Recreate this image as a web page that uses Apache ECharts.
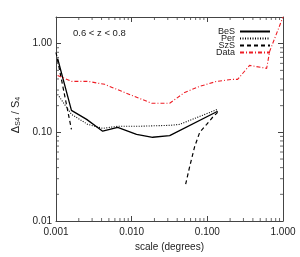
<!DOCTYPE html>
<html><head><meta charset="utf-8">
<script src="https://cdn.jsdelivr.net/npm/echarts@6/dist/echarts.min.js"></script>
<style>html,body{margin:0;padding:0;background:#fff}#c{width:300px;height:257px}</style>
</head><body><div id="c"></div>
<script>
// scale (degrees) and Delta/S4 values
var besX = [0.00105, 0.0016, 0.00254, 0.00414, 0.00653, 0.0116, 0.0189, 0.0318, 0.137];
var besY = [0.68, 0.177, 0.140, 0.103, 0.114, 0.095, 0.088, 0.092, 0.173];
var perX = [0.00105, 0.0016, 0.00262, 0.00414, 0.00653, 0.012, 0.0318, 0.0431, 0.137];
var perY = [0.268, 0.160, 0.123, 0.111, 0.117, 0.117, 0.120, 0.123, 0.182];
var szsX = [0.001, 0.0016, null, 0.0517, 0.0584, 0.068, 0.0793, 0.098, 0.1175, 0.137];
var szsY = [0.80, 0.108, null, 0.026, 0.041, 0.069, 0.100, 0.123, 0.148, 0.168];
var datX = [0.00105, 0.00161, 0.00262, 0.0044, 0.00738, 0.01356, 0.01837, 0.0318, 0.0502, 0.0793, 0.1327, 0.216, 0.251, 0.362, 0.608, 0.666, 1.0];
var datY = [0.439, 0.376, 0.376, 0.348, 0.290, 0.236, 0.213, 0.213, 0.282, 0.330, 0.376, 0.396, 0.396, 0.569, 0.527, 0.819, 2.0];
var xMinorTicks = [0.002,0.003,0.004,0.005,0.006,0.007,0.008,0.009,0.02,0.03,0.04,0.05,0.06,0.07,0.08,0.09,0.2,0.3,0.4,0.5,0.6,0.7,0.8,0.9];
var yMinorTicks = [0.02,0.03,0.04,0.05,0.06,0.07,0.08,0.09,0.2,0.3,0.4,0.5,0.6,0.7,0.8,0.9];
var seriesNames = ['BeS', 'Per', 'SzS', 'Data'];
var panelLabel = '0.6 < z < 0.8';
var X_MIN = 0.001, X_MAX = 1, Y_MIN = 0.01, Y_MAX = 2;

function pairs(xs, ys){ return xs.map(function(x,i){ return x===null ? '-' : [x, ys[i]]; }); }

var AX = '#444';
var FONT = 'Liberation Sans';
function xax(pos, labels){
  return {
    type:'log', logBase:10, min:X_MIN, max:X_MAX, position:pos,
    axisLine:{show:true, onZero:false, lineStyle:{color:AX, width:1}},
    axisTick:{show:true, inside:true, length:5, lineStyle:{color:AX}},
    axisLabel:{show:labels, color:'#222', fontSize:10, fontFamily:FONT, margin:6, formatter:function(v){return v.toFixed(3);}},
    splitLine:{show:false},
    name: labels ? 'scale (degrees)' : '',
    nameLocation:'middle', nameGap:19,
    nameTextStyle:{color:'#222', fontSize:10, fontFamily:FONT}
  };
}
function yax(pos, labels){
  return {
    type:'log', logBase:10, min:Y_MIN, max:Y_MAX, position:pos,
    axisLine:{show:true, onZero:false, lineStyle:{color:AX, width:1}},
    axisTick:{show:true, inside:true, length:5, lineStyle:{color:AX}},
    axisLabel:{show:labels, color:'#222', fontSize:10, fontFamily:FONT, margin:4, formatter:function(v){return v>1.5?'':v.toFixed(2);}},
    splitLine:{show:false},
    name: labels ? '{n|Δ}{s|S4}{n| / S}{s|4}' : '',
    nameLocation:'middle', nameGap:18, nameRotate:90,
    nameTextStyle:{color:'#222', fontFamily:FONT, padding:[0,0,0,8],
      rich:{n:{fontSize:11, fontFamily:FONT, color:'#222'}, s:{fontSize:7, fontFamily:FONT, color:'#222', padding:[5,0,0,0]}}}
  };
}
// minor ticks drawn as tiny marks placed through the axes' own log scales
function tickSeries(data, size, offset){
  return {type:'scatter', data:data, symbol:'rect', symbolSize:size, symbolOffset:offset,
    itemStyle:{color:AX}, silent:true, clip:false, z:5, animation:false};
}

var chart = echarts.init(document.getElementById('c'), null, {renderer:'canvas'});
chart.setOption({
  animation:false,
  backgroundColor:'#fff',
  title:{text:panelLabel, left:68, top:23, textStyle:{fontSize:9.5, fontWeight:'normal', color:'#222', fontFamily:FONT}},
  grid:{left:56, top:17, width:227, height:204},
  legend:{
    orient:'vertical', right:24, top:22, align:'right', itemWidth:30, itemHeight:6, itemGap:-2,
    itemStyle:{opacity:0},
    textStyle:{fontSize:9, fontFamily:FONT, color:'#222', lineHeight:7, padding:[0,0,0,0]},
    data:seriesNames
  },
  xAxis:[xax('bottom',true), xax('top',false)],
  yAxis:[yax('left',true), yax('right',false)],
  series:[
    {name:seriesNames[0], type:'line', data:pairs(besX,besY), symbol:'none', lineStyle:{color:'#000', width:1.3, type:'solid'}, itemStyle:{color:'#000'}},
    {name:seriesNames[1], type:'line', data:pairs(perX,perY), symbol:'none', lineStyle:{color:'#000', width:1.1, type:[1,1.5]}, itemStyle:{color:'#000'}},
    {name:seriesNames[2], type:'line', data:pairs(szsX,szsY), symbol:'none', connectNulls:false, lineStyle:{color:'#000', width:1.2, type:[4,3]}, itemStyle:{color:'#000'}},
    {name:seriesNames[3], type:'line', data:pairs(datX,datY), symbol:'none', lineStyle:{color:'#ee1c24', width:1.1, type:[4,2,1,2]}, itemStyle:{color:'#ee1c24'}},
    tickSeries(xMinorTicks.map(function(v){return [v, Y_MIN];}), [1,3], [0,-1.5]),
    tickSeries(xMinorTicks.map(function(v){return [v, Y_MAX];}), [1,3], [0,1.5]),
    tickSeries(yMinorTicks.map(function(v){return [X_MIN, v];}), [3,1], [1.5,0]),
    tickSeries(yMinorTicks.map(function(v){return [X_MAX, v];}), [3,1], [-1.5,0])
  ]
});
</script></body></html>
